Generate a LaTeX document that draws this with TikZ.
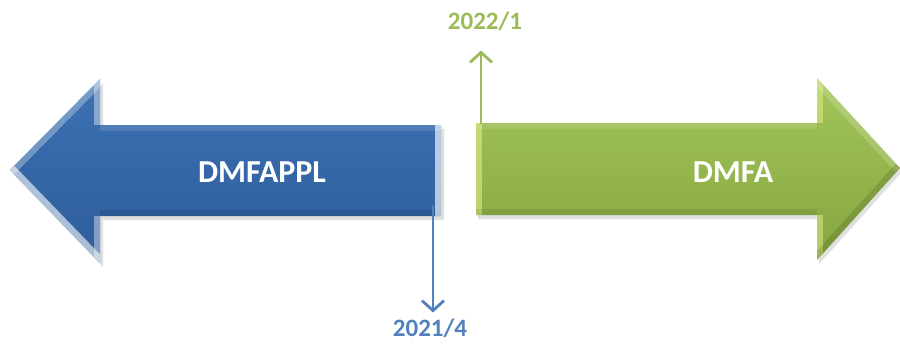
\documentclass[tikz,border=0pt]{standalone}
\usepackage{fontspec}
\setmainfont{Carlito}
\usetikzlibrary{arrows.meta}
\definecolor{bluetop}{HTML}{3D72B4}
\definecolor{bluebot}{HTML}{2D5C9B}
\definecolor{greentop}{HTML}{A2C65A}
\definecolor{greenbot}{HTML}{86A63F}
\definecolor{blueline}{HTML}{4F81BD}
\definecolor{greenline}{HTML}{9BBB59}
\definecolor{greenhi}{HTML}{E4F28A}
\tikzset{
  biglabel/.style={text=white,font=\fontsize{32}{36}\selectfont\bfseries,inner sep=0pt},
  datelabel/.style={font=\fontsize{25}{30}\selectfont\bfseries,inner sep=0pt},
  dateline/.style={line width=2.8pt,-{Straight Barb[length=10pt,width=22pt,line width=2.8pt]}},
  hi/.style={line width=12pt,draw=white,draw opacity=#1},
  lo/.style={line width=12pt,draw=black,draw opacity=#1},
}
\begin{document}
\begin{tikzpicture}[x=1pt,y=-1pt]
\useasboundingbox (0,0) rectangle (900,343);
% ---------- blue arrow ----------
\def\bluepath{(10,170) -- (100,79) -- (100,125) -- (441,125) -- (441,216) -- (100,216) -- (100,263) -- cycle}
\fill[black,opacity=0.12] [shift={(3,4)}] \bluepath;
\shade[top color=bluetop,bottom color=bluebot] \bluepath;
\begin{scope}
  \clip \bluepath;
  \draw[hi=0.3] (10,170) -- (100,79);
  \draw[hi=0.6] (10,170) -- (100,263);
  \draw[hi=0.4] (100,79) -- (100,125);
  \draw[hi=0.4] (100,216) -- (100,263);
  \draw[hi=0.12] (100,125) -- (441,125);
  \draw[lo=0.1] (441,216) -- (100,216);
  \draw[hi=0.65] (441,125) -- (441,216);
\end{scope}
\node[biglabel] (appl) at (262,172) {DMFAPPL};
% ---------- green arrow ----------
\def\greenpath{(476,123) -- (817,123) -- (817,78) -- (900,168) -- (817,260) -- (817,215) -- (476,215) -- cycle}
\fill[black,opacity=0.12] [shift={(2,4)}] \greenpath;
\shade[top color=greentop,bottom color=greenbot] \greenpath;
\begin{scope}
  \clip \greenpath;
  \draw[line width=12pt,draw=greenhi,draw opacity=0.55] (476,123) -- (476,215);
  \draw[hi=0.1] (476,123) -- (817,123);
  \draw[lo=0.08] (476,215) -- (817,215);
  \draw[line width=12pt,draw=greenhi,draw opacity=0.5] (817,78) -- (817,123);
  \draw[line width=12pt,draw=greenhi,draw opacity=0.5] (817,215) -- (817,260);
  \draw[hi=0.18] (817,78) -- (900,168);
  \draw[lo=0.12] (900,168) -- (817,260);
\end{scope}
\node[biglabel] (dmfa) at (733,172) {DMFA};
% ---------- date markers ----------
\node[datelabel,text=blueline] (d2021) at (430,328) {2021/4};
\node[datelabel,text=greenline] (d2022) at (485,21) {2022/1};
\coordinate (b0) at (433,205);
\coordinate (g0) at (481,124);
\draw[dateline,draw=blueline,shorten >=6pt] (b0) -- (b0 |- d2021.north);
\draw[dateline,draw=greenline,shorten >=20pt] (g0) -- (g0 |- d2022.south);
\end{tikzpicture}
\end{document}
